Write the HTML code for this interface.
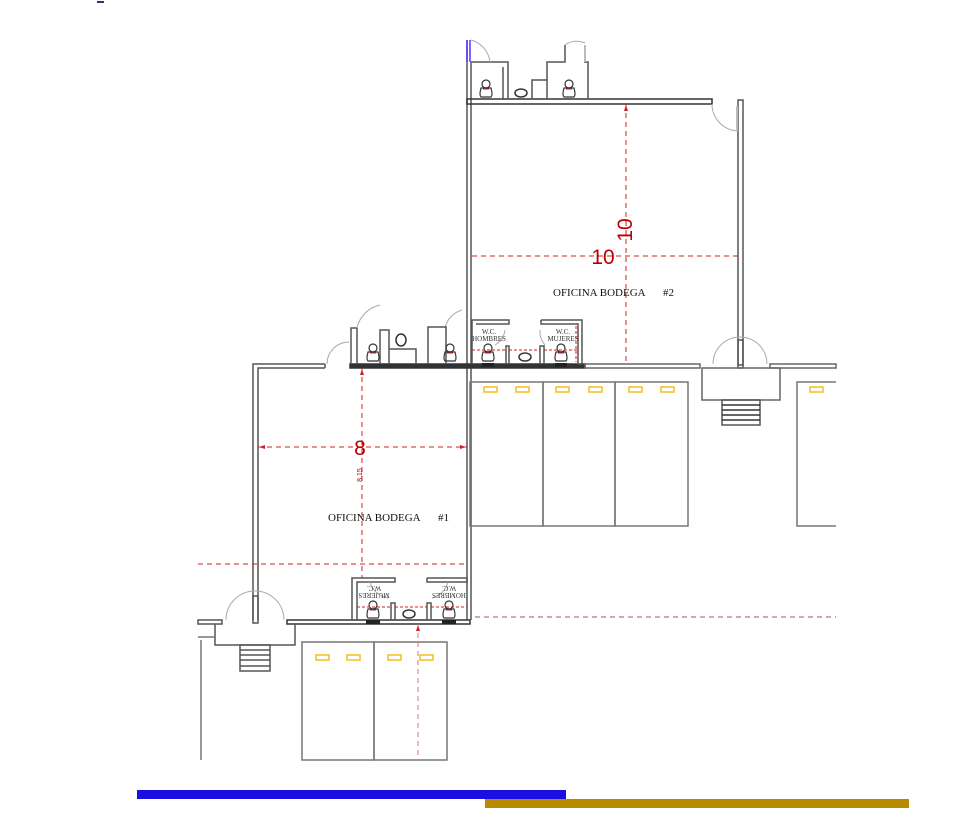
<!DOCTYPE html>
<html><head><meta charset="utf-8"><style>
html,body{margin:0;padding:0;background:#fff;width:962px;height:820px;overflow:hidden}
svg{display:block}
text{font-family:"Liberation Serif",serif}
</style></head><body>
<svg width="962" height="820" viewBox="0 0 962 820" xmlns="http://www.w3.org/2000/svg">
<defs>
<g id="wc">
<circle cx="0" cy="-7" r="4" fill="none" stroke="#333" stroke-width="1.2"/>
<path d="M-5,-3 Q-7,4 -5,6 L5,6 Q7,4 5,-3 Z" fill="none" stroke="#333" stroke-width="1.2"/>
<line x1="-3" y1="-2" x2="3" y2="-2" stroke="#c22" stroke-width="1"/>
</g>
</defs>
<g fill="none" stroke="#555" stroke-width="1.5">
<!-- office 2 left wall (shared) -->
<line x1="467" y1="40" x2="467" y2="620"/>
<line x1="471" y1="62" x2="471" y2="620"/>
<!-- top wall -->
<rect x="467" y="99" width="245" height="5" stroke="#333"/>
<!-- right wall -->
<rect x="738" y="100" width="5" height="265"/>
<path d="M712,104 A27,27 0 0 0 739,131" stroke="#aaa" stroke-width="1"/>
<line x1="737" y1="106" x2="737" y2="130" stroke="#bbb" stroke-width="2"/>
<!-- top stalls -->
<polyline points="471,62 508,62 508,99"/>
<polyline points="503,67 503,99"/>
<path d="M471,40 A26,26 0 0 1 490,62" stroke="#aaa" stroke-width="1"/>
<polyline points="532,99 532,80 547,80 547,99"/>
<polyline points="547,80 547,62 565,62 565,45" />
<polyline points="588,99 588,62 584,62"/>
<line x1="585" y1="45" x2="585" y2="62" stroke="#bbb" stroke-width="2"/>
<path d="M565,45 A20,20 0 0 1 585,43" stroke="#aaa" stroke-width="1"/>
<ellipse cx="521" cy="93" rx="6" ry="4" stroke="#333"/>
</g>
<line x1="467" y1="40" x2="467" y2="62" stroke="#5533ff" stroke-width="1.5"/>
<line x1="470" y1="40" x2="470" y2="62" stroke="#5533ff" stroke-width="1.5"/>
<use href="#wc" x="486" y="91"/>
<use href="#wc" x="569" y="91"/>

<!-- office 2 bottom wall -->
<g fill="none" stroke="#333" stroke-width="1.5">
<rect x="350" y="364" width="235" height="4" fill="#333"/>
<rect x="585" y="364" width="115" height="4" stroke="#666"/>
<rect x="770" y="364" width="66" height="4" stroke="#666"/>
<!-- door at right -->
<rect x="738" y="340" width="5" height="28" stroke="#555"/>
<path d="M713,364 A27,27 0 0 1 740,337 A27,27 0 0 1 767,364" stroke="#aaa" stroke-width="1"/>
<rect x="702" y="368" width="78" height="32" stroke="#666"/>
<rect x="722" y="400" width="38" height="25" stroke="#555"/>
<line x1="722" y1="405" x2="760" y2="405"/><line x1="722" y1="410" x2="760" y2="410"/><line x1="722" y1="415" x2="760" y2="415"/><line x1="722" y1="420" x2="760" y2="420"/>
</g>
<!-- bathrooms above office 1 top -->
<g fill="none" stroke="#555" stroke-width="1.5">
<polyline points="351,364 351,328 357,328 357,364"/>
<polyline points="380,364 380,330 389,330 389,364"/>
<path d="M357,328 A30,30 0 0 1 380,305" stroke="#aaa" stroke-width="1"/>
<path d="M445,328 A24,24 0 0 1 462,310" stroke="#aaa" stroke-width="1"/>
<polyline points="389,349 416,349 416,364"/>
<ellipse cx="401" cy="340" rx="5" ry="6" stroke="#333"/>
<polyline points="428,364 428,327 446,327 446,364"/>
<polyline points="472,364 472,320 509,320 509,324 476,324"/>
<polyline points="506,364 506,346 509,346 509,364"/>
<polyline points="540,364 540,346 544,346 544,364"/>
<polyline points="541,320 582,320 582,364 578,364 578,324 541,324 541,320"/>
<path d="M495,345 A20,20 0 0 0 505,330" stroke="#aaa" stroke-width="1"/>
<path d="M545,345 A20,20 0 0 1 540,330" stroke="#aaa" stroke-width="1"/>
<ellipse cx="525" cy="357" rx="6" ry="4" stroke="#333"/>
</g>
<use href="#wc" x="373" y="355"/>
<use href="#wc" x="450" y="355"/>
<use href="#wc" x="488" y="355"/>
<use href="#wc" x="561" y="355"/>
<rect x="482" y="363" width="12" height="4" fill="#222"/>
<rect x="555" y="363" width="12" height="4" fill="#222"/>
<text x="489" y="334" font-size="7" text-anchor="middle" fill="#333">W.C.</text>
<text x="489" y="341" font-size="7" text-anchor="middle" fill="#333">HOMBRES</text>
<text x="563" y="334" font-size="7" text-anchor="middle" fill="#333">W.C.</text>
<text x="563" y="341" font-size="7" text-anchor="middle" fill="#333">MUJERES</text>
<g stroke="#c22" stroke-width="1" stroke-dasharray="3,2">
<line x1="472" y1="350" x2="506" y2="350"/>
<line x1="509" y1="350" x2="540" y2="350"/>
<line x1="544" y1="350" x2="578" y2="350"/>
<line x1="576" y1="326" x2="576" y2="362"/>
</g>

<!-- office 1 -->
<g fill="none" stroke="#555" stroke-width="1.5">
<polyline points="325,364 253,364 253,620"/>
<polyline points="325,368 258,368 258,620"/>
<line x1="325" y1="364" x2="325" y2="368"/>
<path d="M327,364 A22,22 0 0 1 349,342" stroke="#aaa" stroke-width="1"/>
<!-- bottom wall -->
<rect x="287" y="620" width="183" height="4" stroke="#333"/>
<rect x="198" y="620" width="24" height="4"/>
<rect x="253" y="596" width="5" height="27"/>
<path d="M226,620 A29,29 0 0 1 255,591 A29,29 0 0 1 284,620" stroke="#aaa" stroke-width="1"/>
<polyline points="215,624 215,645 295,645 295,624"/>
<rect x="240" y="645" width="30" height="26"/>
<line x1="240" y1="650" x2="270" y2="650"/><line x1="240" y1="655" x2="270" y2="655"/><line x1="240" y1="660" x2="270" y2="660"/><line x1="240" y1="666" x2="270" y2="666"/>
<!-- bottom bathrooms -->
<polyline points="352,620 352,578 395,578 395,582 357,582 357,620"/>
<polyline points="427,578 467,578 467,582 427,582 427,578"/>
<polyline points="391,620 391,603 395,603 395,620"/>
<polyline points="427,620 427,603 431,603 431,620"/>
<path d="M370,582 A22,22 0 0 0 388,598" stroke="#aaa" stroke-width="1"/>
<path d="M448,582 A22,22 0 0 1 432,598" stroke="#aaa" stroke-width="1"/>
<ellipse cx="409" cy="614" rx="6" ry="4" stroke="#333"/>
</g>
<use href="#wc" x="373" y="612"/>
<use href="#wc" x="449" y="612"/>
<rect x="366" y="620" width="14" height="4" fill="#222"/>
<rect x="442" y="620" width="14" height="4" fill="#222"/>
<text x="374" y="590" font-size="7" text-anchor="middle" fill="#333" transform="rotate(180 374 588)">W.C.</text>
<text x="374" y="597" font-size="7" text-anchor="middle" fill="#333" transform="rotate(180 374 595)">MUJERES</text>
<text x="449" y="590" font-size="7" text-anchor="middle" fill="#333" transform="rotate(180 449 588)">W.C.</text>
<text x="449" y="597" font-size="7" text-anchor="middle" fill="#333" transform="rotate(180 449 595)">HOMBRES</text>
<g stroke="#c22" stroke-width="1" stroke-dasharray="3,2">
<line x1="357" y1="607" x2="391" y2="607"/>
<line x1="395" y1="607" x2="427" y2="607"/>
<line x1="431" y1="607" x2="467" y2="607"/>
</g>

<!-- warehouse blocks -->
<g fill="none" stroke="#777" stroke-width="1.5">
<rect x="470" y="382" width="73" height="144"/>
<rect x="543" y="382" width="72" height="144"/>
<rect x="615" y="382" width="73" height="144"/>
<polyline points="836,382 797,382 797,526 836,526"/>
<rect x="302" y="642" width="72" height="118"/>
<rect x="374" y="642" width="73" height="118"/>
<line x1="201" y1="640" x2="201" y2="760"/>
<polyline points="198,637 215,637"/>
</g>
<g fill="none" stroke="#f5bf1a" stroke-width="1.5">
<rect x="484" y="387" width="13" height="5"/><rect x="516" y="387" width="13" height="5"/>
<rect x="556" y="387" width="13" height="5"/><rect x="589" y="387" width="13" height="5"/>
<rect x="629" y="387" width="13" height="5"/><rect x="661" y="387" width="13" height="5"/>
<rect x="810" y="387" width="13" height="5"/>
<rect x="316" y="655" width="13" height="5"/><rect x="347" y="655" width="13" height="5"/>
<rect x="388" y="655" width="13" height="5"/><rect x="420" y="655" width="13" height="5"/>
</g>

<!-- dimension lines -->
<g stroke="#c22" stroke-width="1" stroke-dasharray="5,4" fill="none">
<line x1="472" y1="256" x2="738" y2="256"/>
<line x1="626" y1="104" x2="626" y2="364"/>
<line x1="258" y1="447" x2="467" y2="447"/>
<line x1="362" y1="368" x2="362" y2="578"/>
<line x1="198" y1="564" x2="467" y2="564"/>
<line x1="418" y1="624" x2="418" y2="760" stroke="#d77"/>
<line x1="475" y1="617" x2="836" y2="617" stroke="#a55"/>
</g>
<g fill="#c22">
<path d="M626,105 l-2,6 l4,0z"/><path d="M362,369 l-2,6 l4,0z"/>
<path d="M418,625 l-2,6 l4,0z"/>
<path d="M259,447 l6,-2 l0,4z"/><path d="M466,447 l-6,-2 l0,4z"/>
</g>
<text x="603" y="264" font-family="Liberation Sans,sans-serif" font-size="21" fill="#b00" text-anchor="middle" style="font-family:'Liberation Sans',sans-serif">10</text>
<text x="0" y="0" font-size="21" fill="#b00" text-anchor="middle" style="font-family:'Liberation Sans',sans-serif" transform="translate(632,230) rotate(-90)">10</text>
<text x="360" y="455" font-size="21" fill="#b00" text-anchor="middle" style="font-family:'Liberation Sans',sans-serif">8</text>
<text x="0" y="0" font-size="7" fill="#b00" text-anchor="middle" style="font-family:'Liberation Sans',sans-serif" transform="translate(362,475) rotate(-90)">8.15</text>

<text x="553" y="296" font-size="11" fill="#111">OFICINA BODEGA</text>
<text x="663" y="296" font-size="11" fill="#111">#2</text>
<text x="328" y="521" font-size="11" fill="#111">OFICINA BODEGA</text>
<text x="438" y="521" font-size="11" fill="#111">#1</text>

<rect x="137" y="790" width="429" height="9" fill="#1a0ee0"/>
<rect x="485" y="799" width="424" height="9" fill="#b88a00"/>
<rect x="97" y="1" width="7" height="2" fill="#336"/>
</svg>
</body></html>
